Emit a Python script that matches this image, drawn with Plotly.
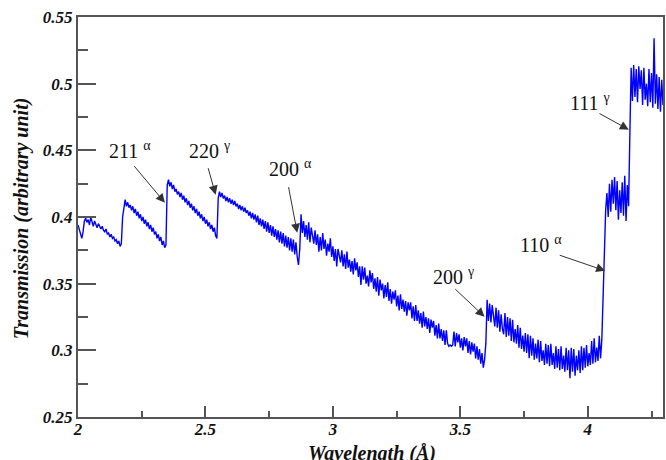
import plotly.graph_objects as go

# ---- data: transmission spectrum (step 0.005 Å) ----
WAVELENGTH_STEP = 0.005

seg_a_start = 2.000
seg_a = [0.394, 0.390, 0.386, 0.384, 0.389, 0.397, 0.399, 0.396, 0.398, 0.394,
         0.400, 0.396, 0.393, 0.397, 0.395, 0.392, 0.395, 0.393, 0.391, 0.393,
         0.390, 0.389, 0.391, 0.387, 0.388, 0.385, 0.387, 0.384, 0.385, 0.382,
         0.383, 0.380, 0.382, 0.378, 0.380]

seg_b_start = 2.175
seg_b = [0.400, 0.409, 0.413, 0.408, 0.411, 0.407, 0.409, 0.405, 0.408, 0.403,
         0.406, 0.401, 0.404, 0.399, 0.402, 0.397, 0.400, 0.395, 0.398, 0.393,
         0.396, 0.391, 0.394, 0.389, 0.392, 0.387, 0.389, 0.384, 0.387, 0.382,
         0.385, 0.379, 0.382, 0.377, 0.379]

seg_c_start = 2.350
seg_c = [0.424, 0.428, 0.423, 0.426, 0.421, 0.424, 0.419, 0.421, 0.417, 0.419,
         0.415, 0.418, 0.413, 0.416, 0.411, 0.414, 0.409, 0.412, 0.407, 0.410,
         0.405, 0.408, 0.403, 0.406, 0.401, 0.404, 0.399, 0.402, 0.397, 0.400,
         0.395, 0.398, 0.393, 0.396, 0.391, 0.394, 0.389, 0.392, 0.386, 0.384]

seg_d_start = 2.550
seg_d = [0.414, 0.419, 0.415, 0.418, 0.414, 0.416, 0.412, 0.415, 0.411, 0.414,
         0.410, 0.413, 0.409, 0.412, 0.408, 0.410, 0.406, 0.409, 0.405, 0.408,
         0.404, 0.407, 0.403, 0.405, 0.401, 0.404, 0.399, 0.403, 0.398, 0.402,
         0.396, 0.401, 0.394, 0.399, 0.393, 0.398, 0.391, 0.397, 0.389, 0.396,
         0.388, 0.394, 0.386, 0.393, 0.385, 0.391, 0.383, 0.390, 0.381, 0.389,
         0.380, 0.388, 0.378, 0.386, 0.377, 0.385, 0.375, 0.384, 0.374, 0.383,
         0.372, 0.381, 0.370, 0.364, 0.376]

seg_e_start = 2.875
seg_e = [0.402, 0.388, 0.397, 0.385, 0.394, 0.383, 0.396, 0.381, 0.392, 0.386,
         0.380, 0.390, 0.379, 0.387, 0.374, 0.385, 0.375, 0.388, 0.376, 0.383,
         0.371, 0.380, 0.374, 0.384, 0.370, 0.378, 0.367, 0.376, 0.363, 0.376,
         0.371, 0.366, 0.375, 0.363, 0.372, 0.361, 0.374, 0.362, 0.368, 0.359,
         0.367, 0.357, 0.369, 0.360, 0.366, 0.355, 0.363, 0.349, 0.363, 0.353,
         0.362, 0.350, 0.356, 0.348, 0.360, 0.351, 0.358, 0.346, 0.354, 0.344,
         0.355, 0.341, 0.353, 0.345, 0.350, 0.339, 0.349, 0.340, 0.351, 0.337,
         0.346, 0.335, 0.344, 0.338, 0.345, 0.333, 0.341, 0.330, 0.342, 0.331,
         0.338, 0.329, 0.337, 0.326, 0.336, 0.330, 0.336, 0.324, 0.333, 0.322,
         0.334, 0.322, 0.330, 0.320, 0.328, 0.317, 0.329, 0.318, 0.325, 0.316,
         0.324, 0.313, 0.323, 0.317, 0.322, 0.311, 0.319, 0.309, 0.320, 0.309,
         0.316, 0.307, 0.315, 0.304, 0.315, 0.305]

seg_f_start = 3.455
seg_f = [0.303, 0.304, 0.303, 0.304, 0.314, 0.303, 0.313, 0.306, 0.312, 0.302,
         0.309, 0.300, 0.310, 0.303, 0.309, 0.298, 0.307, 0.297, 0.306, 0.299,
         0.305, 0.294, 0.303, 0.293, 0.301, 0.290, 0.298, 0.287, 0.293]

seg_g_start = 3.600
seg_g = [0.305, 0.338, 0.322, 0.335, 0.321, 0.334, 0.326, 0.318, 0.332, 0.317,
         0.330, 0.314, 0.327, 0.316, 0.312, 0.328, 0.310, 0.325, 0.311, 0.324,
         0.307, 0.323, 0.306, 0.316, 0.305, 0.319, 0.302, 0.317, 0.301, 0.311,
         0.299, 0.313, 0.298, 0.312, 0.294, 0.311, 0.296, 0.309, 0.293, 0.305,
         0.294, 0.308, 0.291, 0.307, 0.292, 0.300, 0.289, 0.305, 0.290, 0.304,
         0.288, 0.305, 0.289, 0.298, 0.286, 0.303, 0.287, 0.301, 0.285, 0.303,
         0.286, 0.296, 0.284, 0.302, 0.285, 0.300, 0.279, 0.302, 0.284, 0.301,
         0.281, 0.296, 0.285, 0.300, 0.283, 0.303, 0.285, 0.302, 0.287, 0.304,
         0.288, 0.298, 0.289, 0.307, 0.290, 0.309, 0.291, 0.302, 0.292, 0.311,
         0.294, 0.308]

seg_h_start = 4.060
seg_h = [0.340, 0.372, 0.405, 0.418, 0.400, 0.425, 0.404, 0.428, 0.410, 0.430,
         0.405, 0.427, 0.398, 0.420, 0.403, 0.426, 0.401, 0.431, 0.397, 0.424,
         0.408]

seg_i_start = 4.165
seg_i = [0.462, 0.512, 0.487, 0.514, 0.490, 0.511, 0.486, 0.513, 0.496, 0.510,
         0.484, 0.512, 0.488, 0.500, 0.483, 0.511, 0.486, 0.508, 0.482, 0.534,
         0.485, 0.507, 0.481, 0.505, 0.479, 0.503, 0.484]

segments = [(seg_a_start, seg_a), (seg_b_start, seg_b), (seg_c_start, seg_c),
            (seg_d_start, seg_d), (seg_e_start, seg_e), (seg_f_start, seg_f),
            (seg_g_start, seg_g), (seg_h_start, seg_h), (seg_i_start, seg_i)]

wavelength = []
transmission = []
for start, vals in segments:
    for k, v in enumerate(vals):
        wavelength.append(round(start + k * WAVELENGTH_STEP, 4))
        transmission.append(v)

# ---- Bragg-edge labels ----
edge_labels = ["211", "220", "200", "200", "110", "111"]
edge_phases = ["α", "γ", "α", "γ", "α", "γ"]
label_x = [2.114, 2.427, 2.743, 3.384, 3.728, 3.923]
label_y = [0.4505, 0.4505, 0.437, 0.356, 0.380, 0.4865]
arrow_tail_x = [2.216, 2.509, 2.825, 3.474, 3.884, 4.040]
arrow_tail_y = [0.4392, 0.4377, 0.4235, 0.3470, 0.3717, 0.4782]
arrow_head_x = [2.341, 2.540, 2.860, 3.595, 4.068, 4.161]
arrow_head_y = [0.4107, 0.4167, 0.3882, 0.3252, 0.3597, 0.4655]

SERIF = "Liberation Serif, Times New Roman, serif"
AXIS_COLOR = "#555555"

fig = go.Figure()
fig.add_trace(go.Scatter(
    x=wavelength, y=transmission, mode="lines",
    line=dict(color="#0000ff", width=1.4), showlegend=False,
))

annotations = []
for i in range(len(edge_labels)):
    annotations.append(dict(
        x=arrow_head_x[i], y=arrow_head_y[i], xref="x", yref="y",
        ax=arrow_tail_x[i], ay=arrow_tail_y[i], axref="x", ayref="y",
        text="", showarrow=True, arrowhead=2, arrowsize=1.8, arrowwidth=1,
        arrowcolor="#333333",
    ))
    annotations.append(dict(
        x=label_x[i], y=label_y[i], xref="x", yref="y",
        text=f"{edge_labels[i]} <sup>{edge_phases[i]}</sup>",
        showarrow=False, xanchor="left", yanchor="middle",
        font=dict(family=SERIF, size=20, color="#111111"),
    ))

annotations.append(dict(
    x=0.5026, y=-0.092, xref="paper", yref="paper",
    text="Wavelength (Å)", showarrow=False, xanchor="center", yanchor="middle",
    font=dict(family=SERIF, size=20, color="#111111", weight="bold", style="italic"),
))
annotations.append(dict(
    x=-0.0954, y=0.4975, xref="paper", yref="paper", textangle=-90,
    text="Transmission (arbitrary unit)", showarrow=False,
    xanchor="center", yanchor="middle",
    font=dict(family=SERIF, size=20, color="#111111", weight="bold", style="italic"),
))

tickfont = dict(family=SERIF, size=17, color="#111111", weight="bold", style="italic")

fig.update_layout(
    width=666, height=460,
    margin=dict(l=78, r=1, t=17, b=43),
    paper_bgcolor="white", plot_bgcolor="white",
    annotations=annotations,
    xaxis=dict(
        range=[2, 4.295], dtick=0.5, tick0=2, showgrid=False, zeroline=False,
        showline=True, linecolor=AXIS_COLOR, linewidth=2, mirror=True,
        ticks="inside", ticklen=11, tickwidth=1.5, tickcolor=AXIS_COLOR,
        minor=dict(dtick=0.25, ticks="inside", ticklen=6, tickwidth=1.5, tickcolor=AXIS_COLOR),
        tickfont=tickfont, ticklabelstandoff=-4,
    ),
    yaxis=dict(
        range=[0.25, 0.55], dtick=0.05, tick0=0.25, showgrid=False, zeroline=False,
        showline=True, linecolor=AXIS_COLOR, linewidth=2, mirror=True,
        ticks="inside", ticklen=18, tickwidth=1.5, tickcolor=AXIS_COLOR,
        minor=dict(dtick=0.025, ticks="inside", ticklen=10, tickwidth=1.5, tickcolor=AXIS_COLOR),
        tickfont=tickfont,
    ),
)

fig.write_html("out.html", config={"displayModeBar": False},
               post_script="document.body.style.margin='0';")
